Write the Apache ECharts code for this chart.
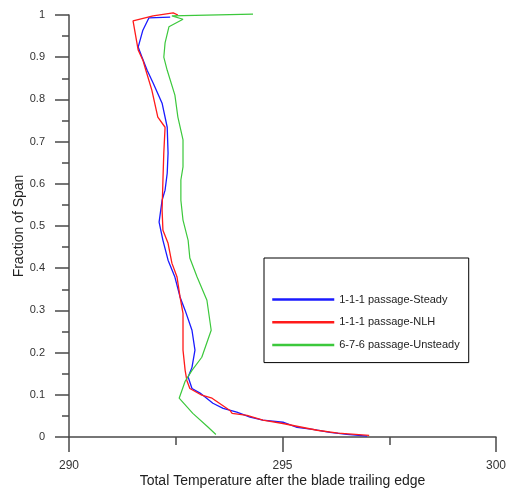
<!DOCTYPE html>
<html>
<head>
<meta charset="utf-8">
<script src="https://cdn.jsdelivr.net/npm/echarts@6/dist/echarts.min.js"></script>
<style>
  html, body { margin: 0; padding: 0; background: #fff; }
  #chart { width: 507px; height: 488px; }
</style>
</head>
<body>
<div id="chart"></div>
<script>
// temperature / span pairs
var steadyTemp = [296.98, 296.51, 296.11, 295.71, 295.34, 295.01, 294.54, 294.24, 293.93, 293.61, 293.37, 293.07, 292.88, 292.79, 292.88, 292.95, 292.88, 292.72, 292.60, 292.48, 292.32, 292.20, 292.11, 292.18, 292.25, 292.30, 292.32, 292.30, 292.18, 291.97, 291.83, 291.71, 291.62, 291.73, 291.87, 292.37];
var steadySpan = [0.002, 0.006, 0.011, 0.018, 0.023, 0.035, 0.040, 0.047, 0.059, 0.068, 0.080, 0.104, 0.115, 0.142, 0.165, 0.206, 0.253, 0.300, 0.332, 0.379, 0.419, 0.466, 0.509, 0.561, 0.585, 0.625, 0.673, 0.734, 0.791, 0.839, 0.869, 0.900, 0.924, 0.964, 0.993, 0.995];

var nlhTemp = [297.03, 296.30, 295.81, 295.01, 294.54, 294.17, 293.82, 293.77, 293.35, 293.11, 292.83, 292.76, 292.72, 292.67, 292.67, 292.60, 292.53, 292.41, 292.32, 292.20, 292.18, 292.20, 292.22, 292.25, 292.08, 291.94, 291.80, 291.73, 291.62, 291.50, 291.97, 292.44, 292.55];
var nlhSpan = [0.004, 0.009, 0.016, 0.032, 0.040, 0.051, 0.056, 0.063, 0.092, 0.099, 0.115, 0.134, 0.158, 0.206, 0.293, 0.332, 0.379, 0.412, 0.459, 0.490, 0.538, 0.609, 0.673, 0.734, 0.758, 0.822, 0.869, 0.893, 0.917, 0.986, 0.998, 1.005, 1.0];

var unsteadyTemp = [293.44, 293.26, 292.90, 292.58, 292.72, 292.88, 293.11, 293.33, 293.23, 293.00, 292.83, 292.79, 292.67, 292.62, 292.62, 292.67, 292.67, 292.55, 292.48, 292.30, 292.22, 292.25, 292.34, 292.67, 292.41, 294.31];
var unsteadySpan = [0.006, 0.023, 0.056, 0.092, 0.132, 0.158, 0.189, 0.253, 0.324, 0.379, 0.424, 0.466, 0.514, 0.561, 0.609, 0.640, 0.704, 0.758, 0.810, 0.869, 0.900, 0.934, 0.972, 0.990, 0.998, 1.002];

var seriesNames = ["1-1-1 passage-Steady", "1-1-1 passage-NLH", "6-7-6 passage-Unsteady"];

function pairs(xs, ys) {
  return xs.map(function (x, i) { return [x, ys[i]]; });
}

var font = "Liberation Sans, Arial, sans-serif";
var axisColor = "#4a4a4a";

var chart = echarts.init(document.getElementById("chart"));
chart.setOption({
  animation: false,
  textStyle: { fontFamily: font },
  grid: { left: 69, right: 11, top: 15, bottom: 51, containLabel: false, outerBoundsMode: "none" },
  legend: {
    orient: "vertical",
    left: 264,
    top: 258,
    padding: [36, 9, 12, 7],
    itemWidth: 62,
    itemHeight: 14,
    itemGap: 11.5,
    borderColor: "#000",
    borderWidth: 1,
    itemStyle: { opacity: 0 },
    lineStyle: { width: 2.5 },
    textStyle: { fontSize: 11, color: "#222", fontFamily: font },
    data: seriesNames
  },
  xAxis: {
    type: "value",
    min: 290,
    max: 300,
    interval: 5,
    name: "Total Temperature after the blade trailing edge",
    nameLocation: "middle",
    nameGap: 37,
    nameMoveOverlap: false,
    nameTextStyle: { fontSize: 14, color: "#222", fontFamily: font },
    axisLine: { lineStyle: { color: axisColor, width: 1.5 } },
    axisTick: { length: 15, lineStyle: { color: axisColor, width: 1.5 } },
    minorTick: { show: true, splitNumber: 2, length: 8, lineStyle: { color: axisColor, width: 1.5 } },
    axisLabel: { margin: 23, fontSize: 12, color: "#333", fontFamily: font },
    splitLine: { show: false }
  },
  yAxis: {
    type: "value",
    min: 0,
    max: 1,
    interval: 0.1,
    name: "Fraction of Span",
    nameLocation: "middle",
    nameGap: 43,
    nameMoveOverlap: false,
    nameTextStyle: { fontSize: 14, color: "#222", fontFamily: font },
    axisLine: { show: true, lineStyle: { color: axisColor, width: 1.5 } },
    axisTick: { show: true, length: 14, lineStyle: { color: axisColor, width: 1.5 } },
    minorTick: { show: true, splitNumber: 2, length: 7, lineStyle: { color: axisColor, width: 1.5 } },
    axisLabel: { margin: 24, fontSize: 11, color: "#333", fontFamily: font },
    splitLine: { show: false }
  },
  series: [
    {
      name: seriesNames[0],
      type: "line",
      symbol: "none",
      clip: false,
      color: "#1a1aff",
      lineStyle: { width: 1.3 },
      data: pairs(steadyTemp, steadySpan)
    },
    {
      name: seriesNames[1],
      type: "line",
      symbol: "none",
      clip: false,
      color: "#ff1a1a",
      lineStyle: { width: 1.3 },
      data: pairs(nlhTemp, nlhSpan)
    },
    {
      name: seriesNames[2],
      type: "line",
      symbol: "none",
      clip: false,
      color: "#3cc83c",
      lineStyle: { width: 1.2 },
      data: pairs(unsteadyTemp, unsteadySpan)
    }
  ]
});
</script>
</body>
</html>
